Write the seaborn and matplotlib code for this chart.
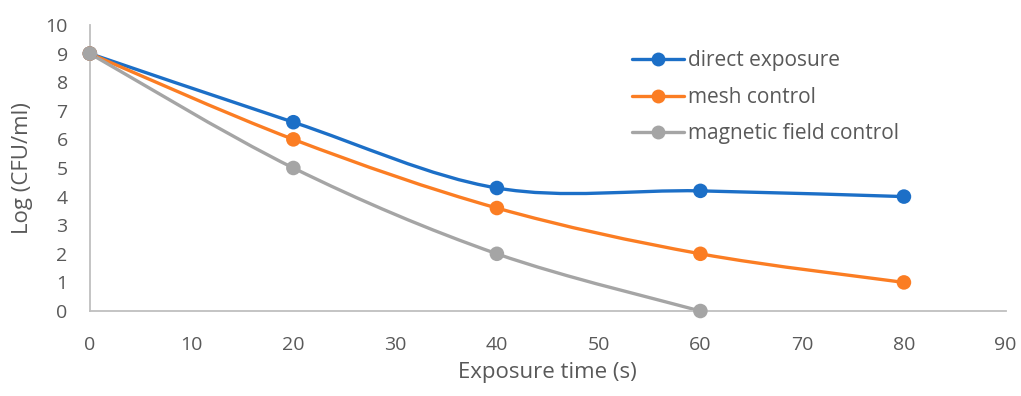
import numpy as np
import pandas as pd
import matplotlib
matplotlib.use("Agg")
import matplotlib.pyplot as plt
from matplotlib.path import Path
from matplotlib.patches import PathPatch
from matplotlib.lines import Line2D
import seaborn as sns

# Survival data: exposure time (s) vs log CFU/ml
direct_time = [0, 20, 40, 60, 80]
direct_log = [9.0, 6.6, 4.3, 4.2, 4.0]
mesh_time = [0, 20, 40, 60, 80]
mesh_log = [9.0, 6.0, 3.6, 2.0, 1.0]
magnetic_time = [0, 20, 40, 60]
magnetic_log = [9.0, 5.0, 2.0, 0.0]

series_names = ["direct exposure", "mesh control", "magnetic field control"]
colors = ["#1C6FC7", "#FB7D23", "#A5A5A5"]
text_color = "#595959"

frames = []
for name, t, v in zip(series_names,
                      [direct_time, mesh_time, magnetic_time],
                      [direct_log, mesh_log, magnetic_log]):
    frames.append(pd.DataFrame({"time": t, "log": v, "series": name}))
df = pd.concat(frames, ignore_index=True)

sns.set_theme(style="white")
plt.rcParams["font.family"] = ["Open Sans", "DejaVu Sans"]

fig = plt.figure(figsize=(10.21, 3.96), dpi=100)
ax = fig.add_axes([0.088, 0.2146, 0.897, 0.7224])


def smooth_path(x, y):
    """Cubic Bezier path through the points (spreadsheet-style smoothing)."""
    pts = np.column_stack([x, y]).astype(float)
    n = len(pts)
    verts = [pts[0]]
    codes = [Path.MOVETO]
    for i in range(n - 1):
        p0 = pts[i - 1] if i > 0 else pts[i]
        p1 = pts[i]
        p2 = pts[i + 1]
        p3 = pts[i + 2] if i + 2 < n else pts[i + 1]
        c1 = p1 + (p2 - p0) / 6.0
        c2 = p2 - (p3 - p1) / 6.0
        verts += [c1, c2, p2]
        codes += [Path.CURVE4] * 3
    return Path(verts, codes)


for name, color in zip(series_names, colors):
    sub = df[df["series"] == name]
    ax.add_patch(PathPatch(smooth_path(sub["time"], sub["log"]),
                           facecolor="none", edgecolor=color, lw=2.4,
                           capstyle="round", joinstyle="round", clip_on=False))
    sns.scatterplot(data=sub, x="time", y="log", color=color, s=110,
                    edgecolor="none", ax=ax, clip_on=False, zorder=3,
                    legend=False)

ax.set_xlim(0, 90)
ax.set_ylim(0, 10)
ax.set_xticks(np.arange(0, 91, 10))
ax.set_yticks(np.arange(0, 11, 1))
ax.tick_params(axis="both", length=0, labelsize=14, labelcolor=text_color)
ax.tick_params(axis="x", pad=18)
ax.tick_params(axis="y", pad=16)
ax.set_xlabel("Exposure time (s)", fontsize=16, color=text_color, labelpad=6)
ax.set_ylabel("Log (CFU/ml)", fontsize=16, color=text_color, labelpad=9)

for side in ["top", "right"]:
    ax.spines[side].set_visible(False)
for side in ["left", "bottom"]:
    ax.spines[side].set_color("#BFBFBF")
    ax.spines[side].set_linewidth(1.3)

handles = [Line2D([0], [0], color=c, lw=2.4, marker="o", markersize=10,
                  markeredgewidth=0) for c in colors]
leg = ax.legend(handles, series_names, loc="upper left",
                bbox_to_anchor=(0.583, 0.94), frameon=False, fontsize=15,
                handlelength=2.5, handletextpad=0.2, labelspacing=0.74,
                borderaxespad=0)
for t in leg.get_texts():
    t.set_color(text_color)

fig.savefig("out.png", dpi=100)
